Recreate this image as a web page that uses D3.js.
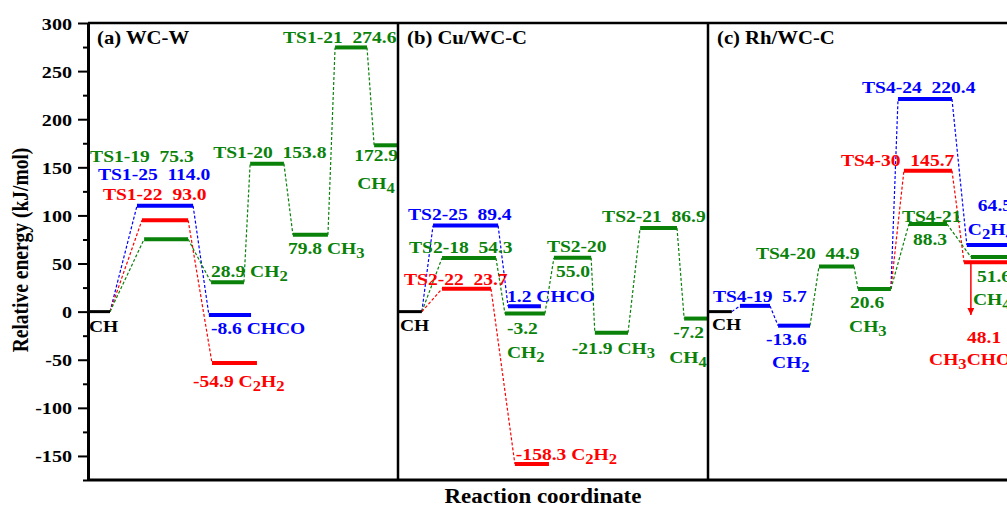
<!DOCTYPE html>
<html>
<head>
<meta charset="utf-8">
<script src="https://cdn.jsdelivr.net/npm/d3@7"></script>
<style>
  body { margin: 0; background: #fff; }
  text { font-family: "Liberation Serif", "Times New Roman", serif; font-weight: bold; }
</style>
</head>
<body>
<div id="chart"></div>
<script>
// panel titles and y ticks
const panelTitles = ["(a) WC-W", "(b) Cu/WC-C", "(c) Rh/WC-C"];
const yTicks = [-150, -100, -50, 0, 50, 100, 150, 200, 250, 300];
const yMinor = [-175, -125, -75, -25, 25, 75, 125, 175, 225, 275];

// levels: id, pathway, start / end on reaction coordinate, plotted energy, label lines
const levelsA = [
  { id: "a0", path: "k", x0: 0, x1: 0.71, e: 0, text: ["CH"] },
  { id: "a1", path: "b", x0: 1.58, x1: 3.39, e: 110, text: ["TS1-25  114.0"] },
  { id: "a2", path: "r", x0: 1.74, x1: 3.23, e: 95, text: ["TS1-22  93.0"] },
  { id: "a3", path: "g", x0: 1.81, x1: 3.23, e: 75.3, text: ["TS1-19  75.3"] },
  { id: "a4", path: "g", x0: 3.97, x1: 5.03, e: 30.5, text: ["28.9 CH_2"] },
  { id: "a5", path: "b", x0: 3.9, x1: 5.26, e: -3.5, text: ["-8.6 CHCO"] },
  { id: "a6", path: "r", x0: 4.0, x1: 5.45, e: -53.4, text: ["-54.9 C_2H_2"] },
  { id: "a7", path: "g", x0: 5.23, x1: 6.32, e: 153.8, text: ["TS1-20  153.8"] },
  { id: "a8", path: "g", x0: 6.61, x1: 7.74, e: 79.8, text: ["79.8 CH_3"] },
  { id: "a9", path: "g", x0: 7.97, x1: 9.0, e: 274.6, text: ["TS1-21  274.6"] },
  { id: "a10", path: "g", x0: 9.23, x1: 10, e: 172.9, text: ["172.9", "CH_4"] },
];
const linksA = [["a0", "a1"], ["a0", "a2"], ["a0", "a3"], ["a1", "a5"], ["a2", "a6"],
  ["a3", "a4"], ["a4", "a7"], ["a7", "a8"], ["a8", "a9"], ["a9", "a10"]];

const levelsB = [
  { id: "b0", path: "k", x0: 10, x1: 10.77, e: 0, text: ["CH"] },
  { id: "b1", path: "b", x0: 11.13, x1: 13.23, e: 89.4, text: ["TS2-25  89.4"] },
  { id: "b2", path: "g", x0: 11.42, x1: 13.16, e: 55.7, text: ["TS2-18  54.3"] },
  { id: "b3", path: "r", x0: 11.42, x1: 13.0, e: 23.7, text: ["TS2-22  23.7"] },
  { id: "b4", path: "b", x0: 13.55, x1: 14.61, e: 5.5, text: ["1.2 CHCO"] },
  { id: "b5", path: "g", x0: 13.45, x1: 14.74, e: -2, text: ["-3.2", "CH_2"] },
  { id: "b6", path: "r", x0: 13.77, x1: 14.87, e: -158.3, text: ["-158.3 C_2H_2"] },
  { id: "b7", path: "g", x0: 15.03, x1: 16.23, e: 56, text: ["TS2-20", "55.0"] },
  { id: "b8", path: "g", x0: 16.35, x1: 17.42, e: -21.9, text: ["-21.9 CH_3"] },
  { id: "b9", path: "g", x0: 17.81, x1: 19.0, e: 86.9, text: ["TS2-21  86.9"] },
  { id: "b10", path: "g", x0: 19.23, x1: 19.97, e: -7.2, text: ["-7.2", "CH_4"] },
];
const linksB = [["b0", "b1"], ["b0", "b2"], ["b0", "b3"], ["b1", "b4"], ["b2", "b5"],
  ["b3", "b6"], ["b5", "b7"], ["b7", "b8"], ["b8", "b9"], ["b9", "b10"]];

const levelsC = [
  { id: "c0", path: "k", x0: 20, x1: 20.77, e: 0, text: ["CH"] },
  { id: "c1", path: "b", x0: 21.03, x1: 22.0, e: 6, text: ["TS4-19  5.7"] },
  { id: "c2", path: "b", x0: 22.26, x1: 23.29, e: -14.6, text: ["-13.6", "CH_2"] },
  { id: "c3", path: "g", x0: 23.58, x1: 24.71, e: 47, text: ["TS4-20  44.9"] },
  { id: "c4", path: "g", x0: 24.84, x1: 25.9, e: 23.5, text: ["20.6", "CH_3"] },
  { id: "c5", path: "b", x0: 26.13, x1: 27.87, e: 221, text: ["TS4-24  220.4"] },
  { id: "c6", path: "r", x0: 26.32, x1: 27.87, e: 146.5, text: ["TS4-30  145.7"] },
  { id: "c7", path: "g", x0: 26.48, x1: 27.71, e: 91, text: ["TS4-21", "88.3"] },
  { id: "c8", path: "b", x0: 28.35, x1: 30, e: 69.2, text: ["64.5", "C_2H_4"] },
  { id: "c9", path: "g", x0: 28.48, x1: 30, e: 56.8, text: ["51.6", "CH_4"] },
  { id: "c10", path: "r", x0: 28.26, x1: 30, e: 51.2, text: ["48.1", "CH_3CHO"] },
];
const linksC = [["c0", "c1"], ["c1", "c2"], ["c2", "c3"], ["c3", "c4"], ["c4", "c5"],
  ["c4", "c6"], ["c4", "c7"], ["c5", "c8"], ["c6", "c10"], ["c7", "c9"]];

// red arrow in panel (c): coordinate, energy from, energy to
const arrowC = { x: 28.48, from: 51.2, to: -3.5 };

// label offsets in px from the bar's left end / bar height (one pair per line)
const labelPos = {
  a0: [[1, 20]], a1: [[-39, -26]], a2: [[-39, -20]], a3: [[-54, -77]], a4: [[0, -5]],
  a5: [[2, 19]], a6: [[-19, 24]], a7: [[-37, -6]], a8: [[-5, 19]], a9: [[-52, -4]],
  a10: [[-20, 16], [-17, 44]],
  b0: [[2, 19]], b1: [[-25, -6]], b2: [[-33, -5]], b3: [[-38, -4]], b4: [[-1, -4]],
  b5: [[2, 20], [2, 44]], b6: [[1, -4]], b7: [[-7, -6], [2, 19]], b8: [[-23, 21]],
  b9: [[-38, -6]], b10: [[-11, 19], [-15, 44]],
  c0: [[4, 18]], c1: [[-27, -4]], c2: [[-12, 19], [-6, 42]], c3: [[-63, -7]],
  c4: [[-8, 19], [-9, 43]], c5: [[-36, -6]], c6: [[-63, -5]], c7: [[-7, -2], [4, 21]],
  c8: [[11, -34], [1, -10]], c9: [[6, 25], [2, 48]], c10: [[3, 81], [-35, 103]],
};

const colors = { k: "#000000", b: "#0000ff", r: "#ff0000", g: "#0a820a" };
const sx = 1.15; // glyphs in the source are a bit wide

const W = 1007, H = 506;
const x = d3.scaleLinear().domain([0, 30]).range([88, 1018]);
const y = d3.scaleLinear().domain([-175, 300]).range([480, 23]);

const svg = d3.select("#chart").append("svg").attr("width", W).attr("height", H);

svg.append("defs").append("marker")
  .attr("id", "head")
  .attr("viewBox", "0 0 10 10")
  .attr("refX", 10).attr("refY", 5)
  .attr("markerWidth", 7).attr("markerHeight", 7)
  .attr("markerUnits", "userSpaceOnUse")
  .attr("orient", "auto")
  .append("path").attr("d", "M0,0 L10,5 L0,10 Z").attr("fill", colors.r);

function label(g, px, py, str, fill, size) {
  const t = g.append("text")
    .attr("transform", "translate(" + px + "," + py + ") scale(" + sx + ",1)")
    .attr("fill", fill)
    .style("font-size", size + "px")
    .style("white-space", "pre");
  const parts = str.split(/(_\d)/).filter(function (s) { return s.length; });
  let low = false;
  parts.forEach(function (p) {
    if (p[0] === "_") {
      t.append("tspan").attr("dy", low ? 0 : 4).style("font-size", size * 0.85 + "px").text(p.slice(1));
      low = true;
    } else {
      t.append("tspan").attr("dy", low ? -4 : 0).text(p);
      low = false;
    }
  });
}

function drawPanel(levels, links) {
  const byId = {};
  levels.forEach(function (d) { byId[d.id] = d; });
  const g = svg.append("g");

  // dashed connectors
  g.selectAll(".link")
    .data(links)
    .enter()
    .append("line")
    .attr("x1", function (d) { return x(byId[d[0]].x1); })
    .attr("y1", function (d) { return y(byId[d[0]].e); })
    .attr("x2", function (d) { return x(byId[d[1]].x0); })
    .attr("y2", function (d) { return y(byId[d[1]].e); })
    .attr("stroke", function (d) { return colors[byId[d[1]].path]; })
    .attr("stroke-width", 1.2)
    .attr("stroke-dasharray", "3,2");

  // energy levels
  g.selectAll(".level")
    .data(levels)
    .enter()
    .append("line")
    .attr("x1", function (d) { return x(d.x0); })
    .attr("x2", function (d) { return x(d.x1); })
    .attr("y1", function (d) { return y(d.e); })
    .attr("y2", function (d) { return y(d.e); })
    .attr("stroke", function (d) { return colors[d.path]; })
    .attr("stroke-width", function (d) { return d.path === "k" ? 3 : 4; });

  levels.forEach(function (d) {
    d.text.forEach(function (line, i) {
      const off = labelPos[d.id][i];
      label(g, x(d.x0) + off[0], y(d.e) + off[1], line, colors[d.path], 17);
    });
  });
}

drawPanel(levelsA, linksA);
drawPanel(levelsB, linksB);
drawPanel(levelsC, linksC);

svg.append("line")
  .attr("x1", x(arrowC.x)).attr("x2", x(arrowC.x))
  .attr("y1", y(arrowC.from)).attr("y2", y(arrowC.to))
  .attr("stroke", colors.r).attr("stroke-width", 1.5)
  .attr("marker-end", "url(#head)");

// frame
const frame = svg.append("g").attr("stroke", "#000");
frame.append("line").attr("x1", x(0)).attr("x2", x(30)).attr("y1", y(300)).attr("y2", y(300)).attr("stroke-width", 2.5);
frame.append("line").attr("x1", x(0)).attr("x2", x(30)).attr("y1", y(-175)).attr("y2", y(-175)).attr("stroke-width", 3);
[10, 20, 30].forEach(function (v) {
  frame.append("line").attr("x1", x(v)).attr("x2", x(v)).attr("y1", y(300)).attr("y2", y(-175)).attr("stroke-width", 2.5);
});

// y axis
svg.append("g")
  .attr("transform", "translate(" + x(0) + ",0)")
  .call(d3.axisLeft(y).tickValues(yMinor).tickSize(5).tickSizeOuter(0).tickFormat(""))
  .call(function (g) { g.selectAll("line").attr("stroke-width", 2); g.select(".domain").remove(); });

const ya = svg.append("g")
  .attr("transform", "translate(" + x(0) + ",0)")
  .call(d3.axisLeft(y).tickValues(yTicks).tickSize(10).tickSizeOuter(0)
    .tickFormat(function (d) { return String(d); }));
ya.select(".domain").attr("stroke-width", 3);
ya.selectAll(".tick line").attr("stroke-width", 2);
ya.selectAll(".tick text")
  .attr("x", 0)
  .attr("dy", null)
  .attr("transform", "translate(-16,6) scale(1.15,1)")
  .attr("fill", "#000")
  .style("font-size", "17.5px")
  .style("font-family", "Liberation Serif, serif")
  .style("font-weight", "bold");

// panel titles
panelTitles.forEach(function (t, i) {
  label(svg, x(i * 10) + 9, 44, t, "#000", 18);
});

// axis titles
svg.append("text")
  .attr("transform", "translate(543,503) scale(1.12,1)")
  .attr("text-anchor", "middle")
  .style("font-size", "20.5px")
  .text("Reaction coordinate");

svg.append("text")
  .attr("transform", "translate(28,250) rotate(-90) scale(1,1.15)")
  .attr("text-anchor", "middle")
  .style("font-size", "19.5px")
  .text("Relative energy (kJ/mol)");
</script>
</body>
</html>
